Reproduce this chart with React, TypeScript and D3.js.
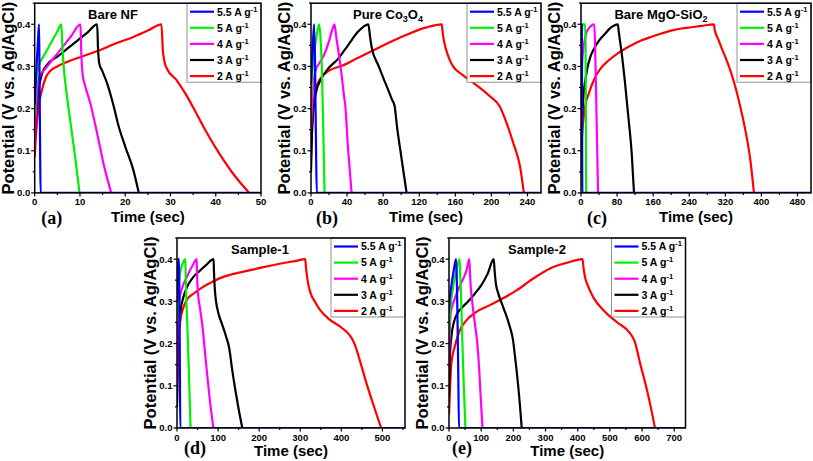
import * as d3 from "d3";

type Pt = [number, number];

// legend entries (current density, A g-1) and their colours
const rates = ["5.5", "5", "4", "3", "2"];
const colors = ["#0000ff", "#00f000", "#ff00ff", "#000000", "#ff0000"];
const yTicks = [0, 0.1, 0.2, 0.3, 0.4];

// (a) Bare NF
const aBlue: Pt[] = [[0, 0.21], [0.4, 0.3], [0.7, 0.355], [0.95, 0.4], [1.05, 0.3], [1.2, 0.1], [1.3, 0], [50, 0]];
const aGreen: Pt[] = [[0, 0.18], [0.3, 0.25], [0.6, 0.29], [1.2, 0.31], [2, 0.325], [3.5, 0.354], [5, 0.383], [5.9, 0.4], [6.1, 0.35], [6.4, 0.3], [7, 0.24], [8, 0.16], [9, 0.08], [9.9, 0]];
const aMagenta: Pt[] = [[0, 0.11], [0.3, 0.2], [0.7, 0.26], [1.2, 0.28], [2, 0.29], [4, 0.317], [6, 0.344], [8, 0.371], [10.1, 0.4], [10.3, 0.33], [10.6, 0.28], [11.2, 0.252], [12.3, 0.212], [13.8, 0.141], [15.2, 0.07], [16.9, 0]];
const aBlack: Pt[] = [[0, 0.12], [0.3, 0.18], [0.8, 0.24], [1.7, 0.285], [2.8, 0.305], [5, 0.323], [7.2, 0.342], [9.5, 0.362], [11.7, 0.381], [13.8, 0.4], [14, 0.34], [14.3, 0.305], [14.9, 0.29], [16, 0.26], [17.4, 0.208], [18.5, 0.16], [20, 0.11], [21.8, 0.054], [23, 0]];
const aRed: Pt[] = [[0, 0.085], [0.3, 0.14], [0.8, 0.2], [1.5, 0.24], [2.5, 0.275], [3.5, 0.29], [5, 0.3], [7, 0.31], [10, 0.322], [14.5, 0.339], [18, 0.355], [21.8, 0.37], [25, 0.385], [28, 0.4], [28.3, 0.34], [28.6, 0.315], [29.2, 0.295], [31.3, 0.268], [33.5, 0.232], [35.7, 0.189], [37.9, 0.145], [40.8, 0.093], [43.8, 0.046], [47.4, 0]];

// (b) Pure Co3O4
const bBlue: Pt[] = [[0, 0.26], [1, 0.3], [2, 0.35], [3.5, 0.4], [4.5, 0.3], [5.5, 0.12], [6.4, 0], [260, 0]];
const bGreen: Pt[] = [[0, 0.22], [1, 0.27], [2, 0.3], [4, 0.34], [6, 0.37], [9, 0.4], [10.5, 0.37], [12, 0.3], [13.5, 0.16], [15, 0]];
const bMagenta: Pt[] = [[0, 0.15], [1, 0.2], [2, 0.24], [5, 0.29], [10, 0.31], [15, 0.33], [20, 0.36], [24, 0.39], [26, 0.4], [28, 0.37], [30, 0.342], [33.6, 0.286], [36.6, 0.23], [38.1, 0.206], [40.4, 0.126], [43, 0.054], [45, 0]];
const bBlack: Pt[] = [[0, 0.05], [1, 0.14], [2, 0.18], [5.6, 0.238], [11.2, 0.27], [18.7, 0.294], [30, 0.318], [41, 0.35], [52, 0.382], [58, 0.394], [63.6, 0.4], [65.5, 0.37], [67.3, 0.345], [74.8, 0.302], [82.2, 0.262], [89.7, 0.222], [92.7, 0.206], [95.3, 0.158], [99, 0.102], [102.8, 0.046], [106, 0]];
const bRed: Pt[] = [[0, 0.08], [1, 0.14], [2.5, 0.2], [5, 0.245], [10, 0.27], [20, 0.29], [35, 0.302], [50, 0.318], [67, 0.336], [85, 0.355], [104.7, 0.374], [127, 0.392], [145, 0.4], [146, 0.38], [147.7, 0.358], [152, 0.325], [157, 0.302], [168, 0.28], [179.4, 0.262], [198, 0.23], [209, 0.206], [216.8, 0.166], [224.3, 0.118], [231.8, 0.062], [236, 0]];

// (c) Bare MgO-SiO2
const cBlue: Pt[] = [[0, 0.3], [0.8, 0.37], [1.5, 0.4], [2.2, 0.3], [3, 0], [510, 0]];
const cGreen: Pt[] = [[0, 0.28], [1, 0.35], [2.5, 0.39], [4, 0.4], [9, 0.4], [10, 0.36], [10.8, 0.2], [11.5, 0]];
const cMagenta: Pt[] = [[0, 0.2], [1, 0.26], [2.2, 0.3], [5, 0.34], [8, 0.362], [12, 0.38], [17, 0.39], [23, 0.397], [29.4, 0.4], [31, 0.36], [33, 0.26], [36, 0.1], [37.8, 0]];
const cBlack: Pt[] = [[0, 0.1], [1.5, 0.16], [3.7, 0.2], [6, 0.24], [9.6, 0.267], [14, 0.295], [20.6, 0.322], [28, 0.34], [35.3, 0.354], [45, 0.368], [53.7, 0.378], [62, 0.388], [70, 0.395], [81.6, 0.4], [84, 0.38], [90.4, 0.33], [97.8, 0.259], [105, 0.18], [112.5, 0.093], [117.5, 0]];
const cRed: Pt[] = [[0, 0.085], [2, 0.13], [5.9, 0.18], [10, 0.21], [17, 0.235], [31.6, 0.275], [45, 0.297], [61, 0.314], [80, 0.33], [97.8, 0.342], [115, 0.352], [134.5, 0.362], [155, 0.37], [178.6, 0.378], [200, 0.385], [222.7, 0.39], [245, 0.393], [266.8, 0.396], [294.8, 0.4], [296, 0.39], [297.7, 0.382], [304, 0.365], [311, 0.346], [325.6, 0.307], [340.3, 0.259], [355, 0.196], [366, 0.14], [375.6, 0.077], [383.5, 0]];

// (d) Sample-1
const dBlue: Pt[] = [[0, 0.3], [1.5, 0.36], [3, 0.4], [5, 0.4], [6, 0.3], [7, 0.15], [8, 0], [555, 0]];
const dGreen: Pt[] = [[0, 0.25], [1, 0.29], [3, 0.33], [8, 0.37], [14, 0.39], [20, 0.4], [21, 0.37], [22, 0.33], [26, 0.22], [30, 0.1], [33, 0]];
const dMagenta: Pt[] = [[0, 0.1], [1, 0.2], [2, 0.25], [5, 0.3], [12, 0.33], [25, 0.36], [38, 0.385], [48, 0.4], [49, 0.36], [52, 0.31], [55, 0.29], [58, 0.27], [63, 0.232], [70, 0.16], [79, 0.074], [88.5, 0]];
const dBlack: Pt[] = [[0, 0.05], [2, 0.2], [4, 0.24], [7.5, 0.272], [15.5, 0.31], [25, 0.335], [40, 0.358], [55, 0.372], [70, 0.385], [89, 0.4], [90, 0.37], [92, 0.33], [95, 0.3], [100, 0.275], [110, 0.245], [120, 0.215], [127, 0.19], [134, 0.14], [142, 0.09], [150, 0.045], [159, 0]];
const dRed: Pt[] = [[0, 0.06], [2, 0.15], [4, 0.21], [7.5, 0.25], [15.5, 0.285], [25, 0.305], [40, 0.318], [60, 0.332], [80, 0.343], [105, 0.355], [130, 0.363], [170, 0.372], [210, 0.381], [250, 0.389], [290, 0.396], [312, 0.4], [314, 0.38], [317, 0.355], [325, 0.32], [335, 0.3], [348, 0.28], [370, 0.258], [400, 0.238], [420, 0.22], [432, 0.2], [445, 0.16], [460, 0.11], [478, 0.055], [497, 0]];

// (e) Sample-2
const eBlue: Pt[] = [[0, 0.28], [3, 0.31], [8, 0.34], [14, 0.37], [22, 0.4], [24, 0.36], [26, 0.28], [28.5, 0.15], [31, 0], [735, 0]];
const eGreen: Pt[] = [[0, 0.22], [2, 0.26], [5, 0.29], [12, 0.33], [22, 0.37], [33, 0.4], [35, 0.36], [38, 0.3], [41, 0.22], [45, 0.12], [51, 0]];
const eMagenta: Pt[] = [[0, 0.15], [2, 0.22], [5, 0.27], [15, 0.3], [30, 0.33], [45, 0.355], [55, 0.375], [63, 0.4], [65, 0.37], [68, 0.33], [72, 0.3], [80, 0.25], [88, 0.2], [93, 0.15], [98, 0.08], [104, 0]];
const eBlack: Pt[] = [[0, 0.08], [3, 0.17], [8, 0.22], [15, 0.25], [25, 0.27], [40, 0.285], [60, 0.3], [80, 0.318], [100, 0.338], [120, 0.365], [139, 0.4], [142, 0.37], [146, 0.34], [152.6, 0.32], [168, 0.287], [189, 0.24], [199, 0.208], [205, 0.17], [210, 0.137], [220, 0.058], [226, 0]];
const eRed: Pt[] = [[0, 0.03], [3, 0.09], [7.3, 0.153], [17.6, 0.192], [33, 0.23], [54, 0.255], [85, 0.275], [127, 0.291], [158, 0.303], [210, 0.326], [262, 0.354], [314, 0.378], [365, 0.391], [415, 0.4], [418, 0.38], [422, 0.36], [430, 0.34], [448, 0.31], [480, 0.279], [521, 0.251], [563, 0.224], [577, 0.205], [595, 0.15], [612, 0.1], [627, 0.05], [640, 0]];

type Panel = {
  id: string;
  title: [string, boolean][];
  series: Pt[][];
  xMax: number;
  xStep: number;
  left: number;
  right: number;
  top: number;
  bottom: number;
  titleX: number;
  tagDx: number;
  tagDy: number;
  labDy: number;
};

const panels: Panel[] = [
  { id: "a", title: [["Bare NF", false]], series: [aBlue, aGreen, aMagenta, aBlack, aRed], xMax: 50, xStep: 10, left: 34.7, right: 261, top: 3.2, bottom: 192.9, titleX: 113, tagDx: 17, tagDy: 31, labDy: 29.5 },
  { id: "b", title: [["Pure Co", false], ["3", true], ["O", false], ["4", true]], series: [bBlue, bGreen, bMagenta, bBlack, bRed], xMax: 255, xStep: 40, left: 311, right: 541, top: 3.2, bottom: 192.9, titleX: 388, tagDx: 16, tagDy: 31, labDy: 29.5 },
  { id: "c", title: [["Bare MgO-SiO", false], ["2", true]], series: [cBlue, cGreen, cMagenta, cBlack, cRed], xMax: 510, xStep: 80, left: 581, right: 811, top: 3.2, bottom: 192.9, titleX: 661, tagDx: 16, tagDy: 31, labDy: 29.5 },
  { id: "d", title: [["Sample-1", false]], series: [dBlue, dGreen, dMagenta, dBlack, dRed], xMax: 555, xStep: 100, left: 177, right: 405, top: 238, bottom: 428, titleX: 260, tagDx: 18, tagDy: 26, labDy: 28 },
  { id: "e", title: [["Sample-2", false]], series: [eBlue, eGreen, eMagenta, eBlack, eRed], xMax: 735, xStep: 100, left: 449, right: 685.5, top: 238, bottom: 428, titleX: 537, tagDx: 13, tagDy: 26, labDy: 28 },
];

const sans = "'Liberation Sans', Arial, sans-serif";
const serif = "'Liberation Serif', 'Times New Roman', serif";

function Chart({ p }: { p: Panel }) {
  const x = d3.scaleLinear([0, p.xMax], [p.left, p.right]);
  const y = d3.scaleLinear([0, 0.45], [p.bottom, p.top]);
  const line = d3.line<Pt>().x(d => x(d[0])).y(d => y(d[1])).curve(d3.curveMonotoneX);
  const majors = d3.range(0, p.xMax + 1e-9, p.xStep);
  const minors = d3.range(p.xStep / 2, p.xMax, p.xStep);
  const yMinors = d3.range(0.05, 0.451, 0.1);
  const midX = (p.left + p.right) / 2;
  const midY = (p.top + p.bottom) / 2;
  const lgW = 74, lgH = 79;
  const lgX = p.right - lgW, lgY = p.top;
  const fmt = d3.format(".1f");

  return (
    <g>
      <defs>
        <clipPath id={"clip-" + p.id}>
          <rect x={p.left} y={p.top} width={p.right - p.left} height={p.bottom - p.top} />
        </clipPath>
      </defs>
      <g clipPath={`url(#clip-${p.id})`} fill="none" strokeWidth={2.2} strokeLinejoin="round">
        {p.series.map((s, i) => ({ s, i })).reverse().map(({ s, i }) => (
          <path key={i} d={line(s) ?? ""} stroke={colors[i]} />
        ))}
      </g>

      {/* legend */}
      <rect x={lgX} y={lgY} width={lgW} height={lgH} fill="#fff" stroke="#777" strokeWidth={0.8} />
      {rates.map((r, i) => {
        const cy = lgY + 8.5 + i * 16.1;
        return (
          <g key={r}>
            <line x1={lgX + 3} x2={lgX + 27} y1={cy} y2={cy} stroke={colors[i]} strokeWidth={2.2} />
            <text x={lgX + 30} y={cy + 3.8} fontFamily={sans} fontWeight="bold" fontSize={10.5}>
              {r} A g<tspan dy={-4} fontSize={7.5}>-1</tspan>
            </text>
          </g>
        );
      })}

      {/* frame */}
      <rect x={p.left} y={p.top} width={p.right - p.left} height={p.bottom - p.top} fill="none" stroke="#000" strokeWidth={1.5} />

      {/* ticks */}
      <g stroke="#000" strokeWidth={1.2}>
        {majors.map(t => <line key={"M" + t} x1={x(t)} x2={x(t)} y1={p.bottom} y2={p.bottom + 3.5} />)}
        {minors.map(t => <line key={"m" + t} x1={x(t)} x2={x(t)} y1={p.bottom} y2={p.bottom + 2} />)}
        {yTicks.map(t => <line key={"Y" + t} x1={p.left - 3.5} x2={p.left} y1={y(t)} y2={y(t)} />)}
        {yMinors.map(t => <line key={"y" + t} x1={p.left - 2} x2={p.left} y1={y(t)} y2={y(t)} />)}
      </g>
      <g fontFamily={sans} fontWeight="bold" fontSize={9.5}>
        {majors.map(t => (
          <text key={t} x={x(t)} y={p.bottom + 12.5} textAnchor="middle">{t}</text>
        ))}
        {yTicks.map(t => (
          <text key={t} x={p.left - 4.5} y={y(t) + 3.4} textAnchor="end">{fmt(t)}</text>
        ))}
      </g>

      {/* titles and labels */}
      <text x={p.titleX} y={p.top + 16} textAnchor="middle" fontFamily={sans} fontWeight="bold" fontSize={13}>
        {p.title.map(([s, sub], i) =>
          sub ? <tspan key={i} dy={3} fontSize={9}>{s}</tspan> : <tspan key={i} dy={i > 0 ? -3 : 0}>{s}</tspan>
        )}
      </text>
      <text x={midX} y={p.bottom + p.labDy} textAnchor="middle" fontFamily={sans} fontWeight="bold" fontSize={15}>
        Time (sec)
      </text>
      <text transform={`translate(${p.left - 21},${midY}) rotate(-90)`} textAnchor="middle" fontFamily={sans} fontWeight="bold" fontSize={16.5}>
        Potential (V vs. Ag/AgCl)
      </text>
      <text x={p.left + p.tagDx} y={p.bottom + p.tagDy} textAnchor="middle" fontFamily={serif} fontWeight="bold" fontSize={18}>
        ({p.id})
      </text>
    </g>
  );
}

export default function App() {
  return (
    <svg width={813} height={461} viewBox="0 0 813 461" style={{ position: "absolute", left: 0, top: 0, background: "#fff" }}>
      {panels.map(p => <Chart key={p.id} p={p} />)}
    </svg>
  );
}
